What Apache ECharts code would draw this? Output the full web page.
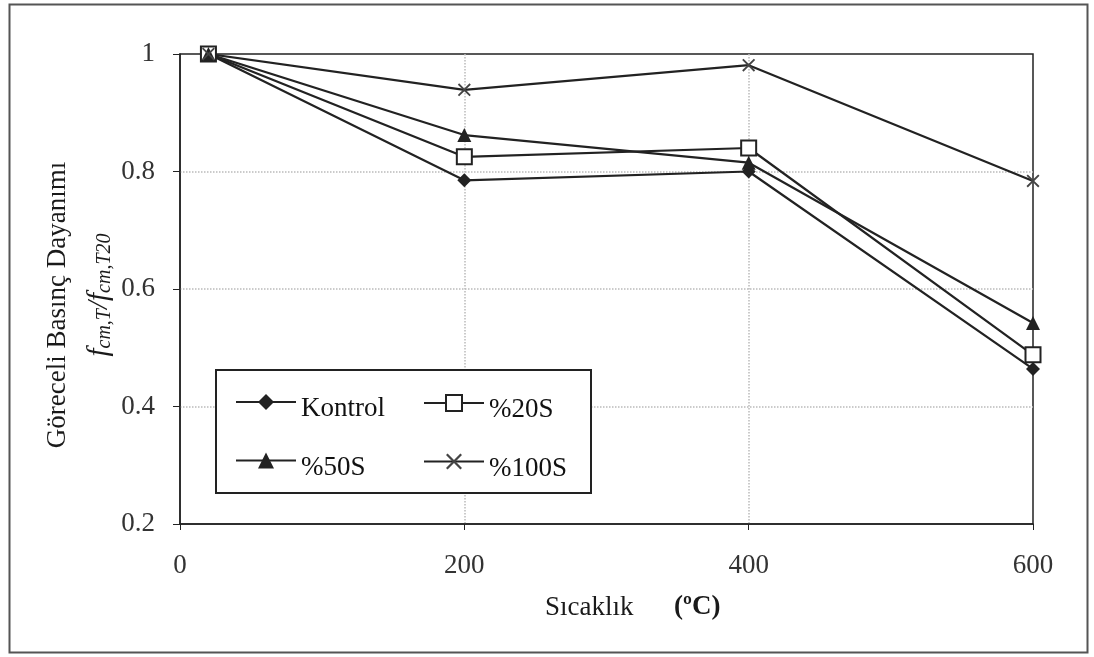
<!DOCTYPE html>
<html>
<head>
<meta charset="utf-8">
<script src="https://cdn.jsdelivr.net/npm/echarts@6/dist/echarts.min.js"></script>
<style>
  html, body { margin: 0; padding: 0; background: #fff; }
  #chart { width: 1094px; height: 657px; }
</style>
</head>
<body>
<div id="chart"></div>
<script>
// temperatures (ºC)
const temperatures = [20, 200, 400, 600];

// relative compressive strength fcm,T / fcm,T20
const kontrol = [1.0, 0.785, 0.80, 0.464];
const s20 = [1.0, 0.825, 0.84, 0.488];
const s50 = [1.0, 0.862, 0.815, 0.542];
const s100 = [1.0, 0.939, 0.981, 0.784];

const seriesNames = ['Kontrol', '%20S', '%50S', '%100S'];

const font = 'Liberation Serif, Times New Roman, serif';
const ink = '#222';

// thick x-shaped polygon, the library has no cross symbol
const crossSymbol = 'path://M0,1 L1,0 L5,4 L9,0 L10,1 L6,5 L10,9 L9,10 L5,6 L1,10 L0,9 L4,5 Z';

function pairs(values) {
  return temperatures.map((t, i) => [t, values[i]]);
}

function makeSeries(name, values, symbol, size, fill) {
  return {
    name: name,
    type: 'line',
    data: pairs(values),
    symbol: symbol,
    symbolSize: size,
    showAllSymbol: true,
    lineStyle: { color: ink, width: 2.2 },
    itemStyle: { color: fill, borderColor: ink, borderWidth: fill === '#fff' ? 2 : 0 },
    emphasis: { disabled: true },
    z: 3
  };
}

const chart = echarts.init(document.getElementById('chart'), null, { renderer: 'canvas' });

// legend labels sit a little lower than their line in the original
const legendText = {
  fontFamily: font, fontSize: 27, color: '#111',
  rich: { t: { fontFamily: font, fontSize: 27, color: '#111', padding: [14, 0, 0, 0] } }
};
const splitStyle = { color: '#bbb', type: 'dotted', width: 1.5 };

chart.setOption({
  animation: false,
  backgroundColor: '#fff',
  textStyle: { fontFamily: font },
  grid: {
    left: 180, right: 61, top: 54, bottom: 133,
    show: true, borderColor: ink, borderWidth: 1.5, backgroundColor: 'transparent'
  },
  graphic: [
    {
      type: 'rect', left: 7, top: 2, z: -1,
      shape: { width: 1078, height: 648 },
      style: { fill: 'none', stroke: '#555', lineWidth: 2 }
    },
    {
      type: 'rect', left: 215, top: 369, z: 2,
      shape: { width: 375, height: 123 },
      style: { fill: '#fff', stroke: ink, lineWidth: 2 }
    },
    {
      type: 'text', z: 5, rotation: Math.PI / 2,
      position: [58, 305],
      style: {
        text: 'Göreceli Basınç Dayanımı',
        font: '27px ' + font, fill: '#1a1a1a',
        align: 'center', verticalAlign: 'middle'
      }
    },
    {
      type: 'text', z: 5, rotation: Math.PI / 2,
      position: [99, 295],
      style: {
        rich: {
          f: { font: 'italic 29px ' + font, fill: '#1a1a1a' },
          s: { font: 'italic 20px ' + font, fill: '#1a1a1a', padding: [12, 0, 0, 0] }
        },
        text: '{f|f}{s|cm,T}{f|/f}{s|cm,T20}',
        align: 'center', verticalAlign: 'middle'
      }
    },
    {
      type: 'text', z: 5, position: [545, 594],
      style: {
        rich: {
          a: { font: '27px ' + font, fill: '#1a1a1a' },
          b: { font: 'bold 27px ' + font, fill: '#1a1a1a' }
        },
        text: '{a|Sıcaklık}{a|      }{b|(ºC)}'
      }
    }
  ],
  legend: [
    {
      data: ['Kontrol', '%50S'],
      orient: 'vertical',
      left: 235, top: 394, padding: 0,
      itemWidth: 60, itemHeight: 20, itemGap: 30,
      formatter: '{t|{name}}',
      textStyle: legendText,
      selectedMode: false
    },
    {
      data: ['%20S', '%100S'],
      orient: 'vertical',
      left: 423, top: 394, padding: 0,
      itemWidth: 60, itemHeight: 20, itemGap: 30,
      formatter: '{t|{name}}',
      textStyle: legendText,
      selectedMode: false
    }
  ],
  xAxis: {
    type: 'value',
    min: 0, max: 600, interval: 200,
    axisLine: { show: true, lineStyle: { color: ink, width: 1.5 } },
    axisTick: { show: true, length: 6, lineStyle: { color: ink } },
    axisLabel: { fontFamily: font, fontSize: 27, color: '#333', margin: 28 },
    splitLine: { show: true, showMinLine: false, showMaxLine: false, lineStyle: splitStyle }
  },
  yAxis: {
    type: 'value',
    min: 0.2, max: 1, interval: 0.2,
    axisLine: { show: true, lineStyle: { color: ink, width: 1.5 } },
    axisTick: { show: true, length: 7, lineStyle: { color: ink } },
    axisLabel: {
      fontFamily: font, fontSize: 27, color: '#333', margin: 25,
      formatter: v => String(+v.toFixed(1))
    },
    splitLine: { show: true, showMinLine: false, showMaxLine: false, lineStyle: splitStyle }
  },
  series: [
    makeSeries(seriesNames[0], kontrol, 'diamond', 14, ink),
    makeSeries(seriesNames[1], s20, 'rect', 15, '#fff'),
    makeSeries(seriesNames[2], s50, 'triangle', 14, ink),
    makeSeries(seriesNames[3], s100, crossSymbol, 13, '#444')
  ]
});
</script>
</body>
</html>
